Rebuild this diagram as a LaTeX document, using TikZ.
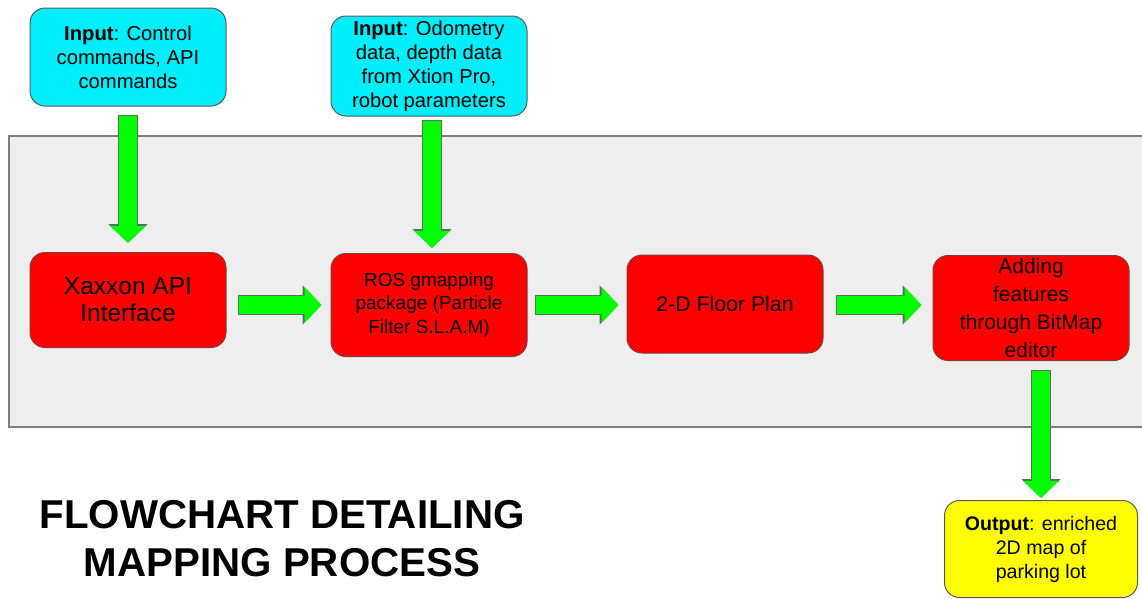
\documentclass[tikz,border=0pt]{standalone}
\usepackage{fontspec}
\setmainfont{Liberation Sans}
\usetikzlibrary{arrows.meta,calc}
\definecolor{bgfill}{RGB}{238,238,238}
\definecolor{bgline}{RGB}{125,125,125}
\definecolor{incyan}{RGB}{0,238,250}
\definecolor{boxred}{RGB}{255,0,0}
\definecolor{outyellow}{RGB}{255,255,0}
\definecolor{arrowgreen}{RGB}{0,255,0}
\definecolor{arrowdark}{RGB}{85,115,85}
\definecolor{boxline}{RGB}{90,90,90}
\tikzset{
  basebox/.style={rectangle, rounded corners=15pt, draw=boxline, line width=1pt, align=center, inner sep=0pt},
  inbox/.style={basebox, fill=incyan, minimum width=196pt, font=\fontsize{20.2}{24}\selectfont},
  redbox/.style={basebox, fill=boxred, draw={rgb,255:red,130;green,60;blue,60}, minimum width=196pt},
  outbox/.style={basebox, fill=outyellow, minimum width=193pt, font=\fontsize{19.6}{24}\selectfont},
  fat/.style n args={2}{line width=18pt, draw=arrowgreen, shorten <=#1pt+1pt, shorten >=#2pt,
    -{Triangle[width=35pt,length=17pt]},
    preaction={draw=arrowdark, line width=20pt, shorten <=#1pt, shorten >=#2pt,
      -{Triangle[width=38pt,length=19pt]}}},
}
\begin{document}
\begin{tikzpicture}[x=1pt,y=-1pt]
\useasboundingbox (0,0) rectangle (1142,598);
\fill[white] (0,0) rectangle (1142,598);
\draw[fill=bgfill, draw=bgline, line width=1.5pt] (9,136) rectangle (1160,427);

\node[inbox, minimum height=98pt] (in1) at (128,57) {\textbf{Input}: Control\\commands, API\\commands};
\node[inbox, minimum height=100pt] (in2) at (429,66) {\textbf{Input}: Odometry\\data, depth data\\from Xtion Pro,\\robot parameters};

\node[redbox, minimum height=95pt, font=\fontsize{24.5}{27}\selectfont] (xax) at (128,300) {Xaxxon API\\Interface};
\node[redbox, minimum height=103pt, font=\fontsize{19}{23.5}\selectfont] (ros) at (429,305) {ROS gmapping\\package (Particle\\Filter S.L.A.M)};
\node[redbox, minimum height=98pt, font=\fontsize{21.3}{28}\selectfont] (flo) at (725,304) {2-D Floor Plan};
\node[redbox, minimum height=105pt, font=\fontsize{21}{28}\selectfont] (add) at (1031,308) {Adding\\features\\through BitMap\\editor};

\node[outbox, minimum height=97pt] (out) at (1041,549) {\textbf{Output}: enriched\\2D map of\\parking lot};

\node[align=center, font=\fontsize{40.3}{48}\selectfont\bfseries] (title) at (282,539) {FLOWCHART DETAILING\\MAPPING PROCESS};

\draw[fat={8}{9}] (in1.south) -- (xax.north);
\draw[fat={3}{5}] ([xshift=3pt]in2.south) -- ([xshift=3pt]ros.north);
\draw[fat={11}{9}] (xax.east |- ros.west) -- (ros.west);
\draw[fat={7}{8}] (ros.east) -- (ros.east -| flo.west);
\draw[fat={12}{11}] (flo.east |- ros.east) -- (ros.east -| add.west);
\draw[fat={9}{2}] (add.south -| out.north) -- (out.north);
\end{tikzpicture}
\end{document}
